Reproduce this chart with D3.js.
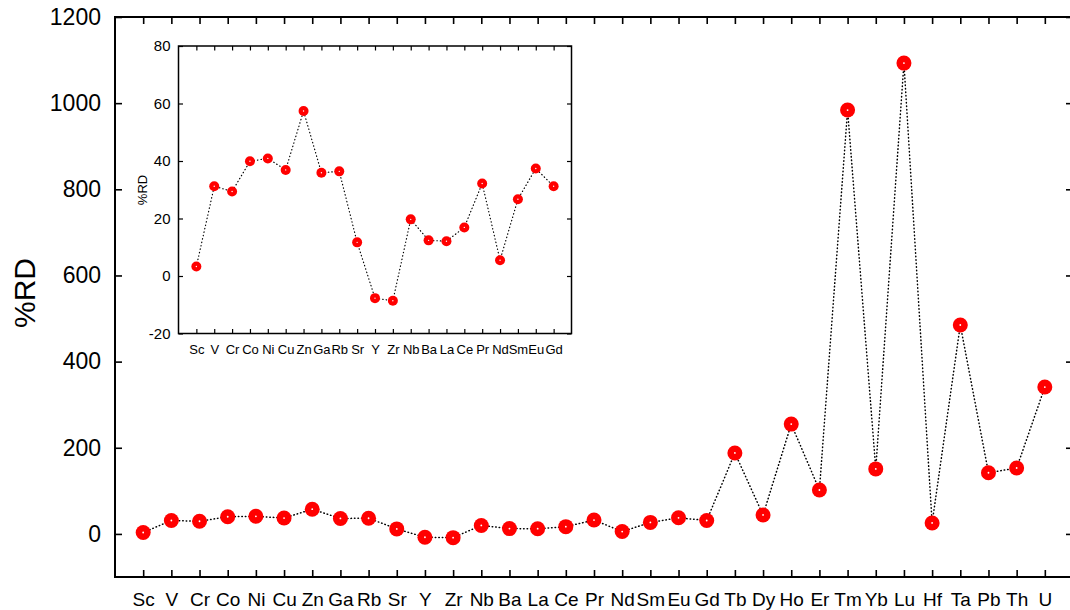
<!DOCTYPE html>
<head>
  <meta charset="utf-8" />
  <script src="https://d3js.org/d3.v7.min.js"></script>
  <style>
    body { margin: 0; background: #fff; }
    text { font-family: "Liberation Sans", Arial, sans-serif; fill: #000; }
    .frame { fill: none; stroke: #000; }
    .tick line { stroke: #000; }
    .domain { display: none; }
    .line { fill: none; stroke: #000; stroke-linecap: round; }
  </style>
</head>
<body>
  <svg width="1070" height="610"></svg>
  <script>
    // elements on the main chart
    var elements = ["Sc","V","Cr","Co","Ni","Cu","Zn","Ga","Rb","Sr","Y","Zr","Nb","Ba","La","Ce","Pr","Nd","Sm","Eu","Gd",
                    "Tb","Dy","Ho","Er","Tm","Yb","Lu","Hf","Ta","Pb","Th","U"];
    // %RD values
    var rdValues = [3.3, 31.2, 29.4, 39.9, 40.9, 36.9, 57.4, 35.9, 36.4, 11.7, -7.7, -8.6, 19.7, 12.4, 12.1, 16.9, 32.2, 5.5, 26.7, 37.4, 31.2,
                    188, 44, 255, 102, 984, 151, 1093, 25.5, 485, 142, 153, 341];
    var mainYTicks = [0, 200, 400, 600, 800, 1000, 1200];

    // inset shows the first 21 elements (Sc..Gd)
    var insetElements = elements.slice(0, 21);
    var insetValues = rdValues.slice(0, 21);
    var insetYTicks = [-20, 0, 20, 40, 60, 80];

    var svg = d3.select("svg");
    var plain = function(d) { return String(d); };

    //main scales
    var x = d3.scaleLinear().domain([0, elements.length + 1]).range([115, 1073]),
        y = d3.scaleLinear().domain([-100, 1200]).range([577, 17]);

    var main = svg.append("g");

    main.append("rect").attr("class", "frame")
      .attr("x", x(0)).attr("y", y(1200))
      .attr("width", x(elements.length + 1) - x(0))
      .attr("height", y(-100) - y(1200))
      .style("stroke-width", 2);

    var xIdx = elements.map(function(d, i) { return i + 1; });

    // bottom axis, ticks pointing in
    main.append("g")
      .attr("transform", "translate(0," + y(-100) + ")")
      .call(d3.axisBottom(x).tickValues(xIdx).tickSize(-7).tickPadding(16)
        .tickFormat(function(d) { return elements[d - 1]; }))
      .call(function(g) {
        g.selectAll("line").style("stroke-width", 1.6);
        g.selectAll("text").style("font-size", "19px");
      });

    // top ticks
    main.append("g")
      .attr("transform", "translate(0," + y(1200) + ")")
      .call(d3.axisTop(x).tickValues(xIdx).tickSize(-7).tickFormat(""))
      .selectAll("line").style("stroke-width", 1.6);

    // left axis
    main.append("g")
      .attr("transform", "translate(" + x(0) + ",0)")
      .call(d3.axisLeft(y).tickValues(mainYTicks).tickSize(-7).tickPadding(14).tickFormat(plain))
      .call(function(g) {
        g.selectAll("line").style("stroke-width", 1.6);
        g.selectAll("text").style("font-size", "23px");
      });

    // right ticks
    main.append("g")
      .attr("transform", "translate(" + x(elements.length + 1) + ",0)")
      .call(d3.axisRight(y).tickValues(mainYTicks).tickSize(-7).tickFormat(""))
      .selectAll("line").style("stroke-width", 1.6);

    main.append("text")
      .attr("transform", "translate(35,293) rotate(-90)")
      .attr("text-anchor", "middle")
      .style("font-size", "30px")
      .text("%RD");

    var line = d3.line()
      .x(function(d, i) { return x(i + 1); })
      .y(function(d) { return y(d); });

    main.append("path")
      .datum(rdValues)
      .attr("class", "line")
      .attr("d", line)
      .style("stroke-width", 1.5)
      .style("stroke-dasharray", "0.5,3");

    var pts = main.selectAll(".pt").data(rdValues).enter().append("g")
      .attr("transform", function(d, i) { return "translate(" + x(i + 1) + "," + y(d) + ")"; });
    pts.append("circle").attr("r", 7.5).attr("fill", "#ff0000");
    pts.append("circle").attr("r", 0.9).attr("fill", "#fff");

    // inset chart
    var xi = d3.scaleLinear().domain([0, insetElements.length + 1]).range([178.5, 571.5]),
        yi = d3.scaleLinear().domain([-20, 80]).range([333.5, 46]);

    var inset = svg.append("g");

    inset.append("rect")
      .attr("x", xi(0)).attr("y", yi(80))
      .attr("width", xi(insetElements.length + 1) - xi(0))
      .attr("height", yi(-20) - yi(80))
      .attr("fill", "#fff").attr("stroke", "#000").style("stroke-width", 1.5);

    var xiIdx = insetElements.map(function(d, i) { return i + 1; });

    inset.append("g")
      .attr("transform", "translate(0," + yi(-20) + ")")
      .call(d3.axisBottom(xi).tickValues(xiIdx).tickSize(-4.5).tickPadding(11)
        .tickFormat(function(d) { return insetElements[d - 1]; }))
      .call(function(g) {
        g.selectAll("line").style("stroke-width", 1.2);
        g.selectAll("text").style("font-size", "13px");
      });

    inset.append("g")
      .attr("transform", "translate(0," + yi(80) + ")")
      .call(d3.axisTop(xi).tickValues(xiIdx).tickSize(-4.5).tickFormat(""))
      .selectAll("line").style("stroke-width", 1.2);

    inset.append("g")
      .attr("transform", "translate(" + xi(0) + ",0)")
      .call(d3.axisLeft(yi).tickValues(insetYTicks).tickSize(-4.5).tickPadding(8).tickFormat(plain))
      .call(function(g) {
        g.selectAll("line").style("stroke-width", 1.2);
        g.selectAll("text").style("font-size", "15px");
      });

    inset.append("g")
      .attr("transform", "translate(" + xi(insetElements.length + 1) + ",0)")
      .call(d3.axisRight(yi).tickValues(insetYTicks).tickSize(-4.5).tickFormat(""))
      .selectAll("line").style("stroke-width", 1.2);

    inset.append("text")
      .attr("transform", "translate(147,190) rotate(-90)")
      .attr("text-anchor", "middle")
      .style("font-size", "13px")
      .text("%RD");

    var lineI = d3.line()
      .x(function(d, i) { return xi(i + 1); })
      .y(function(d) { return yi(d); });

    inset.append("path")
      .datum(insetValues)
      .attr("class", "line")
      .attr("d", lineI)
      .style("stroke-width", 1.2)
      .style("stroke-dasharray", "0.5,3");

    var ptsI = inset.selectAll(".pti").data(insetValues).enter().append("g")
      .attr("transform", function(d, i) { return "translate(" + xi(i + 1) + "," + yi(d) + ")"; });
    ptsI.append("circle").attr("r", 5).attr("fill", "#ff0000");
    ptsI.append("circle").attr("r", 0.7).attr("fill", "#fff");
  </script>
</body>
</html>
